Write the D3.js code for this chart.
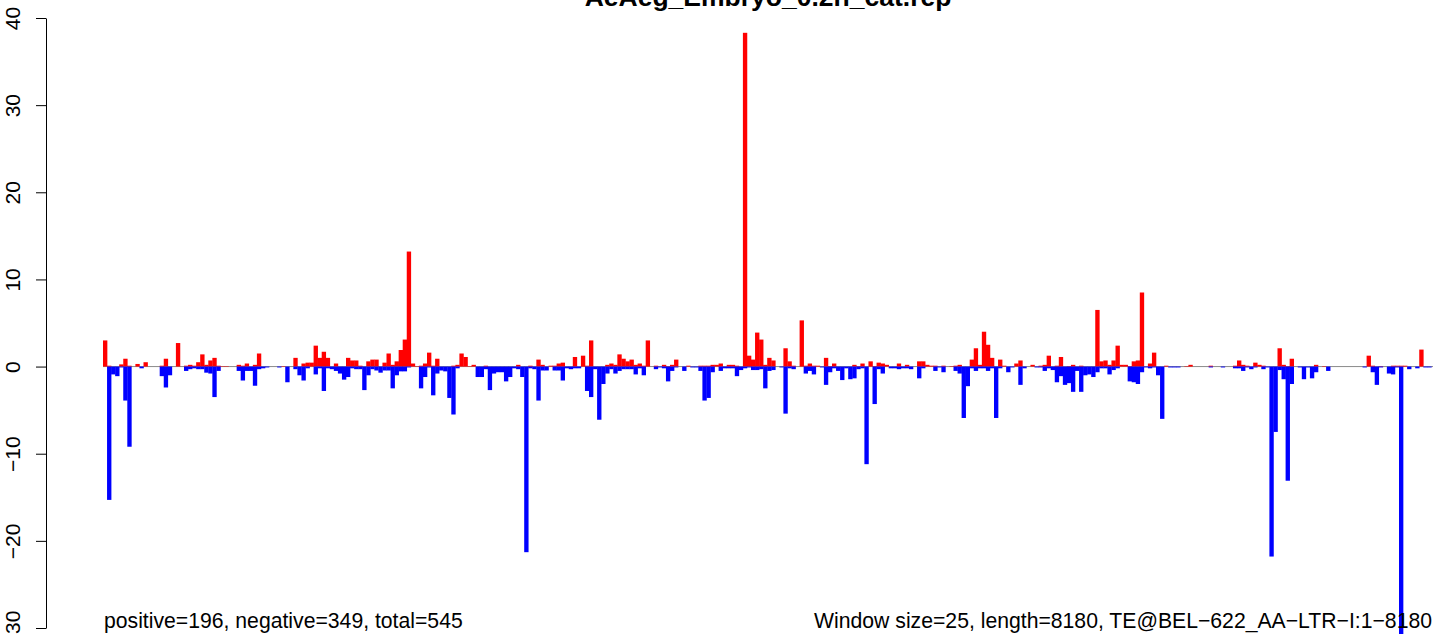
<!DOCTYPE html>
<html><head><meta charset="utf-8">
<script src="https://cdn.jsdelivr.net/npm/d3@7"></script>
<style>html,body{margin:0;padding:0;background:#fff;overflow:hidden}</style>
</head><body>
<svg id="c" width="1433" height="634"></svg>
<script>
const title = "AeAeg_Embryo_0.2h_cat.rep";
const leftNote = "positive=196, negative=349, total=545";
const rightNote = "Window size=25, length=8180, TE@BEL\u2212622_AA\u2212LTR\u2212I:1\u22128180";
const yTicks = [-30, -20, -10, 0, 10, 20, 30, 40];

const pos = [
3.0,0.1,0,0,0.25,0.9,0.1,0,0.3,0, 0.5,0,0,0,0.1,0.9,0,0,2.7,0,
0.1,0.2,0.1,0.5,1.4,0.2,0.7,1.0,0.1,0.05, 0.05,0,0,0.2,0.1,0.35,0,0.2,1.5,0,
0,0,0,0,0.05,0,0,1.0,0,0.35, 0.45,0.45,2.4,1.0,1.7,1.0,0,0.35,0,0,
1.0,0.7,0.7,0.1,0,0.6,0.8,0.8,0,0.45, 1.5,0.2,0.6,1.9,3.1,13.2,0.35,0.05,0.1,0.35,
1.6,0.1,0.9,0,0,0,0.1,0.2,1.5,1.1, 0.05,0.2,0,0,0.1,0,0,0,0,0,
0,0,0.2,0,0,0.1,0,0.8,0.2,0, 0.1,0.1,0.35,0.45,0,0,1.1,0,1.25,0.1,
3.0,0,0,0,0.2,0.35,0.2,1.4,0.9,0.6, 0.8,0.2,0.35,0.1,3.0,0,0.1,0,0.2,0.05,
0.2,0.8,0,0,0.1,0,0,0.1,0.1,0.1, 0.2,0.2,0.35,0,0.2,0.2,0.1,0,38.3,1.25,
0.8,3.9,3.1,0.2,1.0,0.7,0,0,2.1,0.6, 0.1,0,5.3,0.1,0.35,0.1,0.1,0,1.0,0.05,
0.35,0,0,0,0,0.2,0.05,0.35,0,0.6, 0.05,0.45,0.35,0.2,0,0,0.35,0,0.2,0,
0,0.6,0.6,0.2,0.1,0.1,0,0.1,0,0.05, 0.1,0.2,0,0,0.8,2.1,0.2,4.0,2.5,1.0,
0,0.8,0.1,0,0,0.35,0.7,0,0,0.2, 0,0.1,0.2,1.25,0,0.1,1.1,0,0.05,0.2,
0,0.1,0,0,0,6.5,0.6,0.7,0.2,0.7, 2.4,0.2,0.2,0.05,0.6,0.7,8.5,0,0.35,1.6,
0,0,0.1,0,0,0,0,0.05,0.2,0, 0,0,0,0.1,0,0,0,0,0,0.1,
0.7,0.2,0.1,0,0.45,0.2,0.1,0,0,0, 2.1,0.2,0.05,0.9,0,0,0,0,0,0.2,
0,0.05,0,0,0,0,0,0,0,0, 0,0,1.25,0.1,0,0.05,0,0,0.1,0.1,
0.1,0.1,0,0,0,1.95,0,0
];
const neg = [
0,-15.3,-0.9,-1.1,-0.1,-3.9,-9.2,0,0,-0.2, 0,0,0,0,-1.1,-2.4,-1.0,0,0,0,
-0.5,-0.3,-0.2,-0.3,-0.3,-0.7,-0.8,-3.5,-0.5,0, 0,0,0,-0.5,-1.6,-0.5,-0.5,-2.2,-0.3,-0.2,
-0.1,0,0,-0.1,0,-1.8,0,-0.3,-1.0,-1.6, -0.2,0,-0.9,-0.2,-2.8,-0.2,-0.3,-0.5,-0.8,-1.5,
-1.2,-0.2,-0.3,-0.3,-2.7,-1.0,-0.3,-0.45,-0.7,-0.45, -0.45,-2.5,-1.0,-0.55,-0.55,-0.1,0,0,-2.5,-1.2,
-0.1,-3.3,-0.8,-0.45,-0.55,-3.6,-5.5,-0.2,0,0, 0,0,-1.2,-1.2,-0.3,-2.7,-0.8,-0.65,-0.65,-1.7,
-1.2,-0.2,-0.3,-1.2,-21.3,-0.2,-0.3,-3.9,-0.45,-0.45, 0,-0.45,-0.45,-1.6,-0.2,-0.3,-0.2,-0.2,0,-2.8,
-3.5,-0.3,-6.1,-2.0,-0.8,-0.3,-0.8,-0.5,-0.3,-0.3, -0.3,-0.9,-0.2,-1.0,0,0,-0.3,-0.1,-0.2,-1.7,
-0.5,-0.1,0,-0.5,0,-0.1,-0.1,-0.5,-3.9,-3.6, -0.65,0,-0.5,-0.2,-0.2,-0.2,-1.1,-0.4,-0.2,-0.1,
-0.4,-0.4,-0.3,-2.5,-0.5,-0.4,0,-0.1,-5.4,-0.2, -0.3,0,0,-0.8,-0.5,-0.9,0,-0.1,-2.1,-0.65,
-0.2,-0.5,-1.55,-0.2,-1.45,-1.35,-0.3,-0.2,-11.2,0, -4.3,-0.3,-0.8,0,-0.2,-0.2,-0.3,-0.2,-0.2,-0.3,
0,-1.35,-0.2,0,0,-0.5,-0.1,-0.65,0,0, -0.5,-0.8,-5.9,-2.25,-0.2,-0.5,-0.2,-0.2,-0.5,-0.2,
-5.9,-0.2,0,-0.65,-0.1,0,-2.1,-0.2,0,0, -0.1,-0.1,-0.5,-0.2,-0.4,-1.8,-1.1,-2.1,-1.9,-2.9,
-0.5,-2.9,-1.0,-0.9,-1.2,-0.65,-0.2,-0.2,-0.9,-0.4, -0.2,0,0,-1.7,-1.8,-2.0,-0.65,-0.1,-0.2,-0.1,
-1.0,-6.0,0,-0.1,-0.1,-0.1,0,0,0,0, 0,0,0,-0.1,0,0,-0.1,0,0,-0.2,
-0.2,-0.5,-0.1,-0.3,-0.1,0,-0.3,-0.1,-21.8,-7.5, -0.4,-1.45,-13.1,-2.0,0,-0.1,-1.45,-0.1,-1.35,-0.65,
0,0,-0.5,0,0,0,0,0,0,0, 0,-0.1,0,-0.65,-2.1,-0.1,0,-0.8,-0.9,-0.1,
-31,0,-0.3,0,-0.2,0,-0.1,-0.1
];

const svg = d3.select("#c");
const font = "'Liberation Sans', Arial, Helvetica, sans-serif";
const plotL = 103, plotR = 1433, binW = 4.05;

const x = d3.scaleBand().domain(d3.range(pos.length)).range([plotL, plotL + pos.length * binW]).padding(0);
const y = d3.scaleLinear().domain([-30, 40]).range([628, 18]);

// zero baseline
svg.append("line").attr("x1", plotL).attr("x2", plotR)
  .attr("y1", y(0)).attr("y2", y(0)).attr("stroke", "#8a8a8a").attr("stroke-width", 1);

svg.append("g").selectAll("rect").data(pos).join("rect")
  .attr("x", (d, i) => x(i)).attr("width", x.bandwidth() + 0.3)
  .attr("y", d => y(d)).attr("height", d => y(0) - y(d))
  .attr("fill", "#ff0000");

svg.append("g").selectAll("rect").data(neg).join("rect")
  .attr("x", (d, i) => x(i)).attr("width", x.bandwidth() + 0.3)
  .attr("y", y(0)).attr("height", d => y(d) - y(0))
  .attr("fill", "#0000ff");

// y axis
const ax = svg.append("g").attr("transform", "translate(46,0)")
  .call(d3.axisLeft(y).tickValues(yTicks).tickSize(10).tickSizeOuter(0));
ax.select(".domain").attr("stroke", "#000");
ax.selectAll(".tick line").attr("stroke", "#000");
ax.selectAll(".tick text")
  .attr("x", null).attr("dy", null).attr("y", null)
  .attr("transform", "translate(-26,0) rotate(-90)")
  .attr("text-anchor", "middle")
  .attr("font-family", font).attr("font-size", 21).attr("fill", "#000");

// title
svg.append("text").attr("x", (plotL + plotR) / 2).attr("y", 6)
  .attr("text-anchor", "middle").attr("font-family", font)
  .attr("font-weight", "bold").attr("font-size", 26.5).text(title);

svg.append("text").attr("x", plotL + 1).attr("y", 628)
  .attr("font-family", font).attr("font-size", 21.2).text(leftNote);
svg.append("text").attr("x", plotR - 1).attr("y", 628).attr("text-anchor", "end")
  .attr("font-family", font).attr("font-size", 21.2).text(rightNote);
</script>
</body></html>
